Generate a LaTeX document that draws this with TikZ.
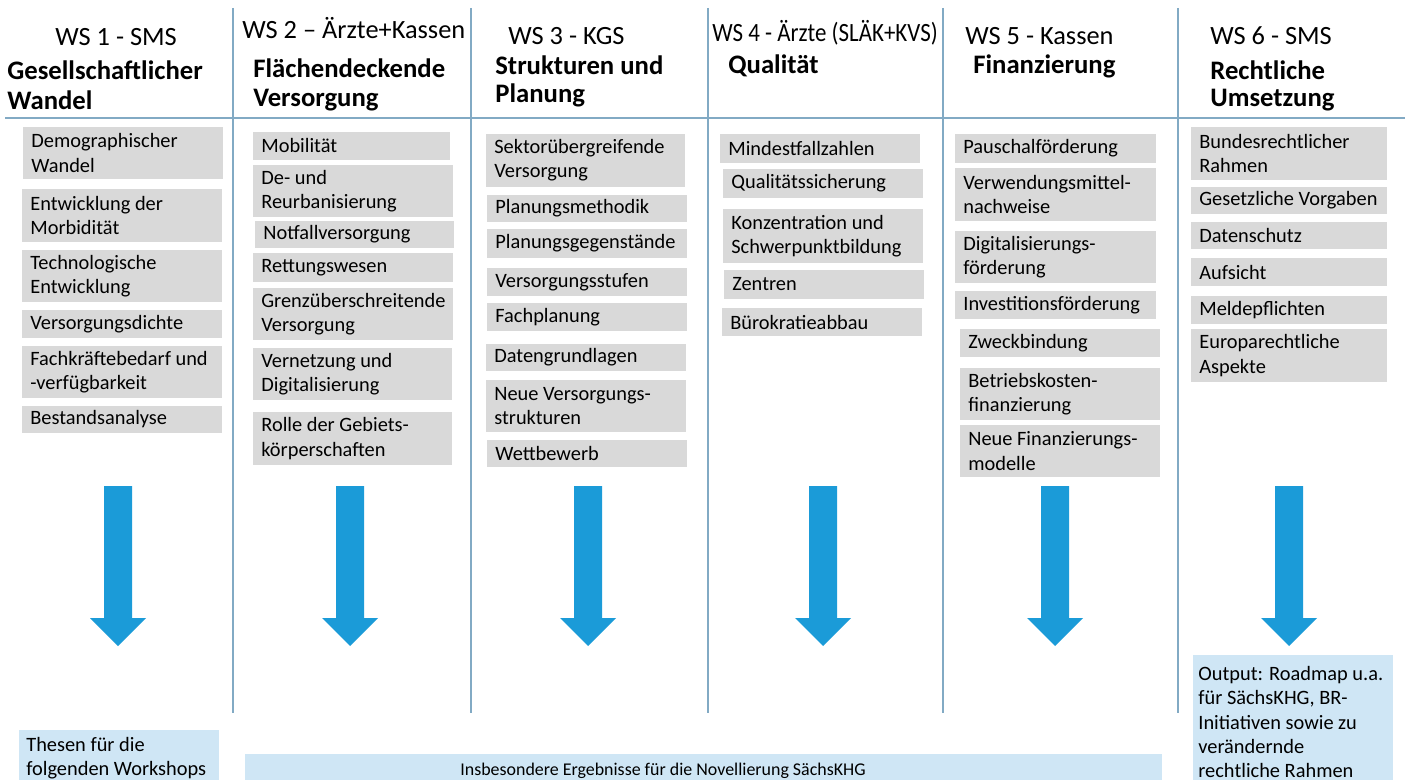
\documentclass[tikz,border=0pt]{standalone}
\usepackage{fontspec}
\usepackage{graphicx}
\setmainfont{Carlito}
\definecolor{sep}{RGB}{130,170,196}
\definecolor{gfill}{RGB}{217,217,217}
\definecolor{bfill}{RGB}{207,230,245}
\definecolor{arr}{RGB}{27,155,216}
\tikzset{
 body/.style={font=\fontsize{11.6pt}{13.8pt}\selectfont, align=left, inner sep=0pt, anchor=west},
 head/.style={font=\fontsize{15pt}{17pt}\selectfont, inner sep=0pt, anchor=base west},
 headb/.style={head, font=\fontsize{15.2pt}{17pt}\selectfont\bfseries},
 seprule/.style={draw=sep, line width=1.1pt},
}
\newcommand\gb[6]{\fill[gfill] (#2,#3) rectangle (#4,#5);
  \node[body] (#1) at ({#2+8},{(#3+#5)/2}) {#6};}
\newcommand\barrow[2]{\fill[arr] ({#2-14},486) -- ({#2+14},486) -- ({#2+14},618) -- ({#2+28},618) -- (#2,646) -- ({#2-28},618) -- ({#2-14},618) -- cycle;
  \coordinate (#1) at (#2,646);}
\begin{document}
\begin{tikzpicture}[x=0.02cm,y=-0.02cm]
\useasboundingbox (0,0) rectangle (1405,780);
% separators
\draw[seprule] (5,118) -- (1405,118);
\foreach \xx in {233,471,708,943,1178} \draw[seprule] (\xx,8) -- (\xx,713);
% headers
\node[head] (h1a) at (55,46) {WS 1 - SMS};
\node[headb] (h1b) at (7,80) {Gesellschaftlicher};
\node[headb] (h1c) at (7,110) {Wandel};
\node[head] (h2a) at (242,39) {WS 2 -- Ärzte+Kassen};
\node[headb] (h2b) at (253,78) {Flächendeckende};
\node[headb] (h2c) at (253,107) {Versorgung};
\node[head] (h3a) at (508,45) {WS 3 - KGS};
\node[headb] (h3b) at (495,75) {Strukturen und};
\node[headb] (h3c) at (495,103) {Planung};
\node[head] (h4a) at (712,42) {\scalebox{0.87}[1]{WS 4 - Ärzte (SLÄK+KVS)}};
\node[headb] (h4b) at (728,74) {Qualität};
\node[head] (h5a) at (965,45) {WS 5 - Kassen};
\node[headb] (h5b) at (973,74) {Finanzierung};
\node[head] (h6a) at (1210,45) {WS 6 - SMS};
\node[headb] (h6b) at (1210,80) {Rechtliche};
\node[headb] (h6c) at (1210,107) {Umsetzung};
% column 1
\gb{a1}{23}{127}{223}{179}{Demographischer\\Wandel}
\gb{a2}{22}{189}{222}{242}{Entwicklung der\\Morbidität}
\gb{a3}{22}{250}{222}{302}{Technologische\\Entwicklung}
\gb{a4}{22}{310}{222}{338}{Versorgungsdichte}
\gb{a5}{22}{346}{222}{398}{Fachkräftebedarf und\\-verfügbarkeit}
\gb{a6}{22}{406}{222}{433}{Bestandsanalyse}
% column 2
\gb{b1}{253}{132}{450}{160}{Mobilität}
\gb{b2}{253}{165}{453}{217}{De- und\\Reurbanisierung}
\gb{b3}{255}{221}{454}{248}{Notfallversorgung}
\gb{b4}{253}{253}{453}{282}{Rettungswesen}
\gb{b5}{253}{288}{453}{340}{Grenzüberschreitende\\Versorgung}
\gb{b6}{253}{348}{452}{400}{Vernetzung und\\Digitalisierung}
\gb{b7}{253}{412}{452}{465}{Rolle der Gebiets-\\körperschaften}
% column 3
\gb{c1}{486}{134}{685}{187}{Sektorübergreifende\\Versorgung}
\gb{c2}{487}{195}{687}{222}{Planungsmethodik}
\gb{c3}{487}{229}{687}{258}{Planungsgegenstände}
\gb{c4}{487}{268}{687}{296}{Versorgungsstufen}
\gb{c5}{487}{303}{687}{331}{Fachplanung}
\gb{c6}{486}{344}{686}{371}{Datengrundlagen}
\gb{c7}{486}{380}{686}{432}{Neue Versorgungs-\\strukturen}
\gb{c8}{487}{440}{687}{467}{Wettbewerb}
% column 4
\gb{d1}{720}{134}{920}{163}{Mindestfallzahlen}
\gb{d2}{723}{169}{923}{198}{Qualitätssicherung}
\gb{d3}{723}{209}{923}{263}{Konzentration und\\Schwerpunktbildung}
\gb{d4}{724}{270}{924}{299}{Zentren}
\gb{d5}{722}{308}{922}{336}{Bürokratieabbau}
% column 5
\gb{e1}{955}{134}{1156}{163}{Pauschalförderung}
\gb{e2}{955}{168}{1156}{221}{Verwendungsmittel-\\nachweise}
\gb{e3}{955}{231}{1156}{283}{Digitalisierungs-\\förderung}
\gb{e4}{955}{291}{1156}{319}{Investitionsförderung}
\gb{e5}{960}{329}{1160}{357}{Zweckbindung}
\gb{e6}{960}{368}{1160}{420}{Betriebskosten-\\finanzierung}
\gb{e7}{960}{425}{1160}{477}{Neue Finanzierungs-\\modelle}
% column 6
\gb{f1}{1191}{127}{1387}{180}{Bundesrechtlicher\\Rahmen}
\gb{f2}{1191}{187}{1387}{214}{Gesetzliche Vorgaben}
\gb{f3}{1191}{222}{1387}{249}{Datenschutz}
\gb{f4}{1191}{258}{1387}{286}{Aufsicht}
\gb{f5}{1191}{296}{1387}{324}{Meldepflichten}
\gb{f6}{1191}{329}{1387}{382}{Europarechtliche\\Aspekte}
% arrows
\barrow{t1}{118}
\barrow{t2}{350}
\barrow{t3}{588}
\barrow{t4}{823}
\barrow{t5}{1055}
\barrow{t6}{1289}
% bottom boxes
\fill[bfill] (19,730) rectangle (219,780);
\node[body] (o1) at (26,758) {Thesen für die\\folgenden Workshops};
\fill[bfill] (245,754) rectangle (1162,780);
\node[body, anchor=base, font=\fontsize{10.2pt}{12pt}\selectfont] (o2) at (663,775) {Insbesondere Ergebnisse für die Novellierung SächsKHG};
\fill[bfill] (1193,655) rectangle (1393,780);
\node[body] (o3) at (1198,722) {Output: Roadmap u.a.\\für SächsKHG, BR-\\Initiativen sowie zu\\verändernde\\rechtliche Rahmen};
\end{tikzpicture}
\end{document}
